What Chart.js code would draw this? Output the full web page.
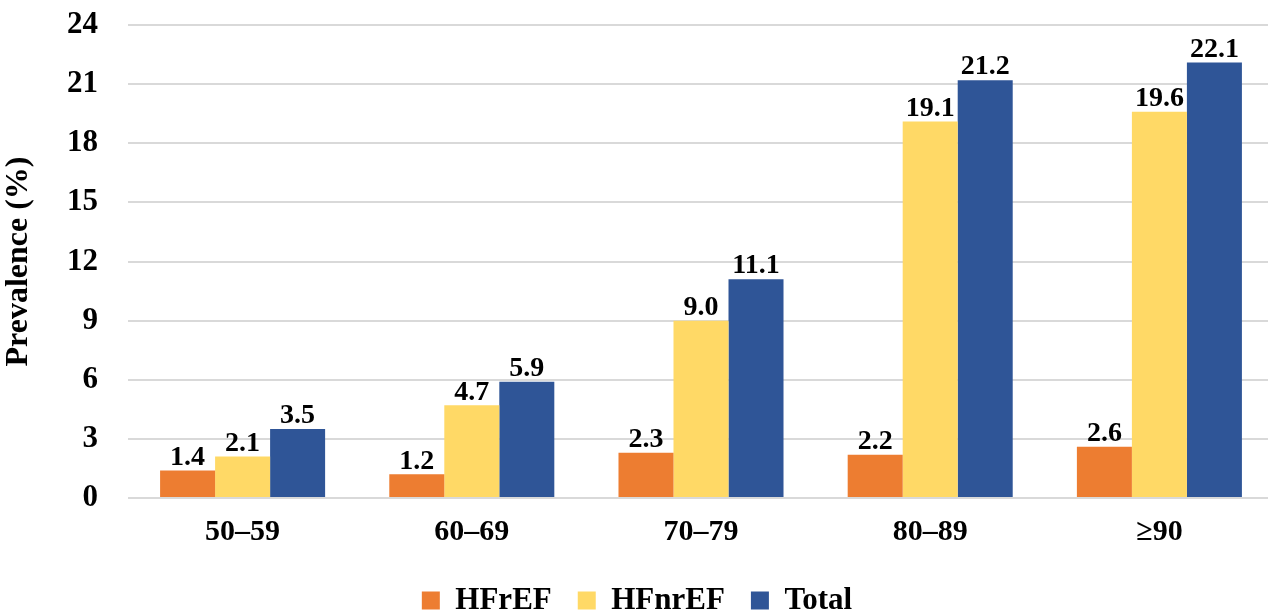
<!DOCTYPE html>
<html>
<head>
<meta charset="utf-8">
<script src="https://cdn.jsdelivr.net/npm/chart.js@4"></script>
<style>
  html, body { margin: 0; padding: 0; background: #fff; overflow: hidden; }
  #wrap { width: 1274px; height: 614px; }
</style>
</head>
<body>
<div id="wrap"><canvas id="c" width="1274" height="614"></canvas></div>
<script>
// Age groups and heart-failure prevalence (%) per group
const ageGroups = ['50–59', '60–69', '70–79', '80–89', '≥90'];
const hfrefValues = [1.4, 1.2, 2.3, 2.2, 2.6];
const hfnrefValues = [2.1, 4.7, 9.0, 19.1, 19.6];
const totalValues = [3.5, 5.9, 11.1, 21.2, 22.1];
const yTicks = [0, 3, 6, 9, 12, 15, 18, 21, 24];

const FONT = "'Liberation Serif', 'Times New Roman', serif";

// Writes each bar's value just above it
const valueLabels = {
  id: 'valueLabels',
  afterDatasetsDraw(chart) {
    const ctx = chart.ctx;
    ctx.save();
    ctx.font = `bold 28px ${FONT}`;
    ctx.fillStyle = '#000';
    ctx.textAlign = 'center';
    ctx.textBaseline = 'bottom';
    chart.data.datasets.forEach((ds, i) => {
      chart.getDatasetMeta(i).data.forEach((bar, j) => {
        ctx.fillText(ds.data[j].toFixed(1), bar.x, bar.y + 1);
      });
    });
    ctx.restore();
  }
};

new Chart(document.getElementById('c'), {
  type: 'bar',
  data: {
    labels: ageGroups,
    datasets: [
      { label: 'HFrEF', data: hfrefValues, backgroundColor: '#ED7D31' },
      { label: 'HFnrEF', data: hfnrefValues, backgroundColor: '#FFD966' },
      { label: 'Total', data: totalValues, backgroundColor: '#2F5597' }
    ]
  },
  options: {
    responsive: false,
    animation: false,
    layout: { padding: { top: 25, right: 0, bottom: -12, left: 0 } },
    datasets: { bar: { categoryPercentage: 0.72, barPercentage: 1.0 } },
    plugins: {
      legend: {
        position: 'bottom',
        labels: {
          color: '#000',
          font: { family: FONT, size: 31, weight: 'bold' },
          boxWidth: 18,
          boxHeight: 18,
          padding: 26
        }
      },
      tooltip: { enabled: false }
    },
    scales: {
      x: {
        grid: { display: false },
        border: { display: false },
        ticks: {
          color: '#000',
          font: { family: FONT, size: 30, weight: 'bold' },
          padding: 8
        },
        afterFit(scale) { scale.height = 61; }
      },
      y: {
        min: 0,
        max: 24,
        afterBuildTicks(scale) { scale.ticks = yTicks.map(v => ({ value: v })); },
        grid: { color: '#d9d9d9', lineWidth: 2, drawTicks: false },
        border: { display: false },
        ticks: {
          color: '#000',
          font: { family: FONT, size: 31, weight: 'bold' },
          padding: 30
        },
        title: {
          display: true,
          text: 'Prevalence (%)',
          color: '#000',
          font: { family: FONT, size: 32, weight: 'bold' },
          padding: 0
        },
        afterFit(scale) {
          scale.width = 128;
          scale.paddingTop = 0;
          scale.paddingBottom = 0;
        }
      }
    }
  },
  plugins: [valueLabels]
});
</script>
</body>
</html>
